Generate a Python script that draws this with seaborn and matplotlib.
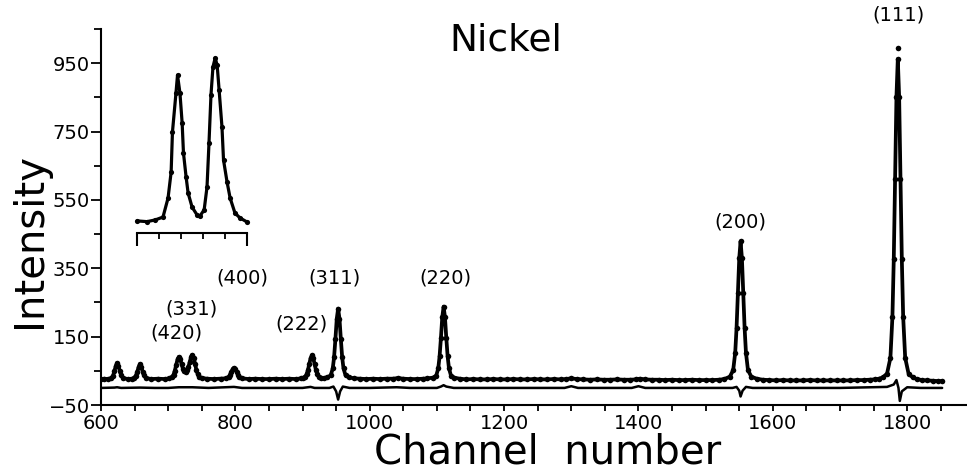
import matplotlib
matplotlib.use("Agg")
import matplotlib.pyplot as plt
import pandas as pd
import seaborn as sns
from matplotlib.ticker import FixedLocator, MultipleLocator

# ---------------- data ----------------
channel = [600, 605, 610, 615,
           618, 620, 622, 624, 626, 628, 630, 633,
           640, 646,
           649, 652, 654, 656, 658, 660, 662, 664, 667,
           675, 685, 695, 702,
           706, 708, 710, 712, 714, 716, 718, 720, 722, 724, 726, 728, 730, 732, 734, 736, 738, 740, 742, 744, 746, 750,
           758, 768, 778,
           786, 790, 792, 794, 796, 798, 800, 802, 804, 806, 810,
           820, 830, 840, 850, 860, 870, 880, 890, 898,
           900, 904, 906, 908, 910, 912, 914, 916, 918, 920, 922, 924, 928, 932,
           937, 942, 945, 947, 949, 951, 953, 955, 957, 959, 961, 964, 969, 977,
           985, 995, 1005, 1015, 1025, 1035, 1042, 1050, 1060, 1070, 1080, 1086,
           1094, 1099, 1102, 1104, 1106, 1108, 1110, 1112, 1114, 1116, 1118, 1121, 1126, 1134,
           1144, 1154, 1164, 1174, 1184, 1194, 1204, 1214, 1224, 1234, 1244, 1254, 1264, 1274, 1284, 1292,
           1300, 1308, 1318, 1328, 1338, 1348, 1358, 1368, 1378, 1388, 1396, 1402, 1410, 1420, 1430, 1440,
           1450, 1460, 1470, 1480, 1490, 1500, 1510, 1520,
           1528, 1536, 1541, 1544, 1546, 1548, 1550, 1552, 1554, 1556, 1558, 1560, 1563, 1568, 1576,
           1585, 1595, 1605, 1615, 1625, 1635, 1645, 1655, 1665, 1675, 1685, 1695, 1705, 1715, 1725, 1735,
           1745, 1752, 1758,
           1764, 1770, 1775, 1778, 1780, 1782, 1784, 1786, 1788, 1790, 1792, 1794, 1797, 1802, 1808, 1814,
           1822, 1830, 1838, 1846, 1852]
observed = [26, 27, 26, 28,
            36, 49, 64, 73, 65, 50, 37, 29,
            26, 27,
            29, 36, 47, 61, 70, 62, 48, 37, 29,
            26, 27, 26, 28,
            33, 39, 51, 67, 84, 91, 85, 69, 56, 50, 48, 52, 60, 75, 90, 97, 89, 71, 53, 40, 33, 29,
            27, 26, 27,
            28, 32, 38, 47, 55, 59, 55, 47, 38, 32, 28,
            26, 27, 26, 26, 27, 26, 27, 26, 28,
            29, 33, 40, 52, 70, 87, 95, 87, 70, 52, 40, 33, 30, 29,
            31, 37, 57, 90, 144, 203, 232, 203, 144, 90, 57, 37, 31, 28,
            27, 26, 27, 26, 27, 27, 29, 27, 26, 26, 27, 28,
            30, 36, 57, 92, 146, 207, 238, 207, 146, 92, 57, 36, 30, 27,
            25, 26, 25, 25, 26, 25, 25, 26, 25, 25, 26, 25, 25, 26, 25, 26,
            28, 26, 25, 24, 25, 24, 24, 25, 24, 24, 25, 27, 25, 24, 24, 23,
            24, 23, 23, 24, 23, 23, 23, 24,
            26, 33, 52, 103, 175, 277, 379, 429, 379, 277, 175, 103, 52, 33, 27,
            24, 23, 22, 23, 22, 22, 22, 23, 22, 22, 22, 22, 22, 22, 23, 23,
            24, 25, 27,
            31, 42, 88, 208, 376, 612, 852, 962, 852, 612, 376, 208, 88, 42, 31, 26,
            23, 22, 21, 20, 20]

# highest observed count of the (111) reflection, drawn as a lone dot
top_channel = [1786]
top_observed = [995]

# difference (observed - calculated) curve
diff_channel = [600, 620, 624, 630, 658, 680, 700, 716, 736, 760, 798, 810, 860, 900, 912,
                918, 940, 946, 950, 953, 956, 960, 970, 1000, 1040, 1060, 1100, 1106, 1110,
                1114, 1125, 1200, 1290, 1300, 1310, 1390, 1400, 1410, 1500, 1540, 1546, 1550,
                1552, 1555, 1560, 1570, 1700, 1770, 1780, 1784, 1787, 1789, 1792, 1800, 1820, 1852]
difference = [0, 1, 2, 0, 1, 0, 0, 2, 2, 0, 3, 0, 0, 0, 3,
              0, 0, 4, -10, -34, -10, 4, 0, 0, 2, 0, 0, 4, 8,
              4, 0, 0, 0, 5, 0, 0, 5, 0, 0, 0, 3, -8,
              -25, -8, 3, 0, 0, 3, 10, 23, 0, -38, -10, 2, 0, 0]

# reflection labels
peak_labels = ["(111)", "(200)", "(220)", "(311)", "(400)", "(331)", "(420)", "(222)"]
label_channel = [1787, 1551, 1112, 948, 811, 735, 713, 899]
label_height = [1090, 485, 321, 321, 321, 231, 160, 187]

# inset: doublet profile (relative units)
inset_x = [0, 4.5, 8.2, 11.8, 14.1, 15.5, 16.1, 17.7, 18.4, 19.5, 20.5, 21.1, 22.3, 23.2, 25.0,
           27.3, 28.6, 30.5, 31.8, 32.7, 33.6, 34.5, 35.5, 36.4, 37.3, 38.6, 39.3, 40.9,
           42.3, 44.5, 46.8, 50.0]
inset_y = [6.6, 6.2, 7.1, 8.7, 19.1, 33.3, 55.2, 76.5, 86.3, 76.5, 60.1, 43.7, 30.6, 21.9, 14.2,
           9.8, 9.3, 12.6, 25.1, 49.2, 75.4, 90.7, 95.6, 91.8, 78.1, 57.9, 39.9, 27.9,
           19.1, 10.9, 8.2, 6.0]
inset_major = [0, 50]
inset_minor = [10, 20, 30, 40]

x_ticks = [600, 800, 1000, 1200, 1400, 1600, 1800]
y_ticks = [-50, 150, 350, 550, 750, 950]
y_minor = [50, 250, 450, 650, 850, 1050]

# ---------------- plot ----------------
sns.set_theme(style="ticks", rc={"text.color": "black", "axes.labelcolor": "black",
                                 "xtick.color": "black", "ytick.color": "black",
                                 "axes.edgecolor": "black"})
plt.rcParams["font.family"] = ["DejaVu Sans"]
plt.rcParams["axes.unicode_minus"] = True

fig = plt.figure(figsize=(9.67, 4.72), dpi=100)
ax = fig.add_axes([0.1044, 0.1419, 0.8956, 0.7966])

df = pd.DataFrame({"channel": channel, "observed": observed})
ddf = pd.DataFrame({"channel": diff_channel, "difference": difference})
tdf = pd.DataFrame({"channel": top_channel, "observed": top_observed})

sns.lineplot(data=df, x="channel", y="observed", ax=ax, color="black",
             linewidth=2.7, estimator=None, errorbar=None)
sns.scatterplot(data=df, x="channel", y="observed", ax=ax, color="black",
                s=16, linewidth=0, zorder=3)
sns.scatterplot(data=tdf, x="channel", y="observed", ax=ax, color="black",
                s=16, linewidth=0, zorder=3, clip_on=False)
sns.lineplot(data=ddf, x="channel", y="difference", ax=ax, color="black",
             linewidth=1.8, estimator=None, errorbar=None)

ax.set_xlim(600, 1889)
ax.set_ylim(-50, 1050)
ax.set_xlabel("")
ax.set_ylabel("")
ax.spines[["top", "right"]].set_visible(False)
for s in ["left", "bottom"]:
    ax.spines[s].set_linewidth(1.5)

ax.xaxis.set_major_locator(FixedLocator(x_ticks))
ax.xaxis.set_minor_locator(MultipleLocator(50))
ax.yaxis.set_major_locator(FixedLocator(y_ticks))
ax.yaxis.set_minor_locator(FixedLocator(y_minor))
ax.tick_params(axis="y", which="major", length=7, width=1.3, pad=1, labelsize=14,
               direction="out", colors="black")
ax.tick_params(axis="y", which="minor", length=5, width=1.3, direction="out")
ax.tick_params(axis="x", which="both", length=4.5, width=1.3, pad=2, labelsize=14,
               direction="out", colors="black")

for lab, xc, yc in zip(peak_labels, label_channel, label_height):
    ax.text(xc, yc, lab, ha="center", va="center", fontsize=14, color="black", clip_on=False)

fig.text(0.523, 0.894, "Nickel", ha="center", va="baseline", fontsize=27, color="black")
fig.text(0.0315, 0.4915, "Intensity", rotation=90, ha="center", va="center",
         fontsize=29, color="black")
fig.text(0.566, 0.019, "Channel  number", ha="center", va="baseline", fontsize=29,
         color="black")

# inset
iax = fig.add_axes([0.1417, 0.5064, 0.1138, 0.3877])
iax.patch.set_alpha(0)
idf = pd.DataFrame({"x": inset_x, "y": inset_y})
sns.lineplot(data=idf, x="x", y="y", ax=iax, color="black", linewidth=2.3,
             estimator=None, errorbar=None, clip_on=False)
sns.scatterplot(data=idf, x="x", y="y", ax=iax, color="black", s=14,
                linewidth=0, zorder=3, clip_on=False)
iax.set_xlim(0, 50)
iax.set_ylim(0, 100)
iax.set_xlabel("")
iax.set_ylabel("")
for s in ["top", "right", "left"]:
    iax.spines[s].set_visible(False)
iax.spines["bottom"].set_linewidth(1.5)
iax.set_yticks([])
iax.xaxis.set_major_locator(FixedLocator(inset_major))
iax.xaxis.set_minor_locator(FixedLocator(inset_minor))
iax.tick_params(axis="x", which="major", length=9, width=1.5, labelbottom=False, direction="out")
iax.tick_params(axis="x", which="minor", length=4, width=1.3, direction="out")

fig.savefig("out.png", dpi=100)
